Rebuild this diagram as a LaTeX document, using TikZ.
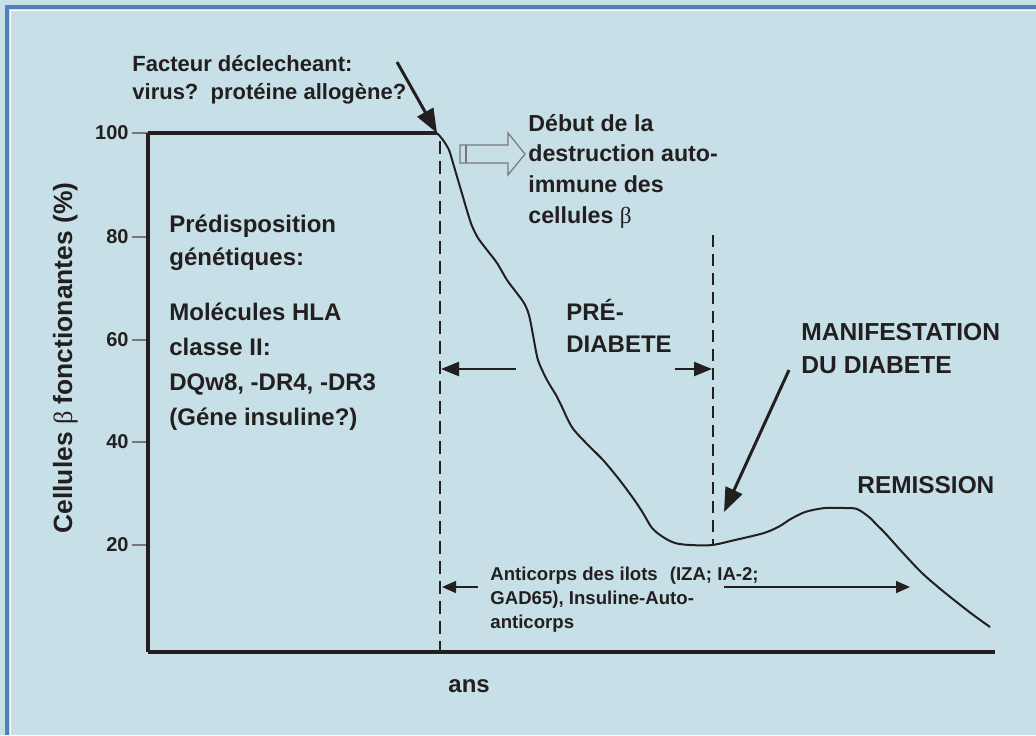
\documentclass[tikz,border=0pt]{standalone}
\usepackage{fontspec}
\setmainfont{Liberation Sans}
\newfontfamily\grec{Liberation Serif}
\usetikzlibrary{arrows.meta, positioning}
\definecolor{fond}{RGB}{199,224,231}
\definecolor{cadre}{RGB}{79,129,189}
\definecolor{encre}{RGB}{35,31,32}
\definecolor{gris}{RGB}{120,120,120}
\tikzstyle{axe} = [draw=encre, line width=2.4pt]
\tikzstyle{plateau} = [draw=encre, line width=1.8pt]
\tikzstyle{graduation} = [draw=gris, line width=0.7pt]
\tikzstyle{tiret} = [draw=encre, line width=1.3pt, dash pattern=on 6.5pt off 3.5pt]
\tikzstyle{tiretfin} = [draw=encre, line width=0.9pt, dash pattern=on 6pt off 3.5pt]
\tikzstyle{courbe} = [draw=encre, line width=1pt, line join=round]
\tikzstyle{fleche} = [draw=encre, line width=1.2pt, -{Triangle[length=9pt, width=7pt]}]
\tikzstyle{grossefleche} = [draw=encre, line width=1.5pt, -{Triangle[length=12pt, width=9pt]}]
\tikzstyle{finefleche} = [draw=encre, line width=0.75pt, -{Triangle[length=7pt, width=6pt]}]
\tikzstyle{titre} = [text=encre, inner sep=0pt, anchor=base west, align=left]
\tikzstyle{valeur} = [text=encre, inner sep=0pt, anchor=east, font=\bfseries\fontsize{10}{12}\selectfont]

\begin{document}
\begin{tikzpicture}[x=0.5pt, y=-0.5pt]
	\useasboundingbox (0,0) rectangle (1036,735);
	\fill [fond] (0,0) rectangle (1036,735);
	\draw [cadre, line width=2pt] (7,735) -- (7,7) -- (1036,7);
	\draw [white, line width=0.7pt] (10.5,735) -- (10.5,10.5) -- (1036,10.5);

	\coordinate (o) at (148,652);
	\coordinate (yhaut) at (148,133);
	\coordinate (xfin) at (995,652);
	\coordinate (onset) at (437,133);
	\coordinate (trig) at (397,62);
	\coordinate (dg1) at (440,141);
	\coordinate (dg2) at (440,650);
	\coordinate (dd1) at (713,235);
	\coordinate (dd2) at (713,545);
	\coordinate (predL) at (516,369);
	\coordinate (predLend) at (441,369);
	\coordinate (predR) at (675,369);
	\coordinate (predRend) at (712,369);
	\coordinate (manA) at (789,370);
	\coordinate (manB) at (724,512);
	\coordinate (acL) at (478,587);
	\coordinate (acLend) at (442,587);
	\coordinate (acR) at (724,587);
	\coordinate (acRend) at (910,587);

	\foreach \v/\y in {100/133, 80/237, 60/340, 40/442, 20/545} {
		\path [graduation] (132,\y) -- (148,\y);
		\node [valeur] (g\v) at (129,\y) {\v};
	}

	\path [plateau] (yhaut) -- (onset);
	\path [axe] (yhaut) -- (o);
	\path [axe] (o) -- (xfin);

	\path [tiret] (dg1) -- (dg2);
	\path [tiretfin] (dd1) -- (dd2);

	\path [courbe] plot [smooth, tension=0.5] coordinates {
		(437,133) (443,140) (449,150) (453,163) (458,180) (463,197) (468,214)
		(472,226) (478,238) (487,250) (497,263) (507,280) (516,292) (524,303)
		(529,315) (533,335) (538,360) (547,380) (556,395) (562,407) (568,420)
		(574,430) (588,445) (603,460) (618,478) (633,498) (643,513) (652,528)
		(663,537) (675,543) (690,545) (712,545) (735,540) (764,533) (780,526)
		(789,520) (805,512) (825,508) (845,508) (857,509) (869,517) (877,525)
		(885,533) (903,553) (922,573) (938,587) (954,600) (972,614) (990,627)};

	\draw [gris, fill=fond, line width=0.6pt, line join=miter]
		(460,145) -- (508,145) -- (508,133) -- (525,154) -- (508,175)
		-- (508,163) -- (460,163) -- cycle;
	\draw [gris, line width=0.6pt] (466,145) -- (466,163);

	\path [grossefleche] (trig) -- (onset);
	\path [fleche] (predL) -- (predLend);
	\path [fleche] (predR) -- (predRend);
	\path [grossefleche] (manA) -- (manB);
	\path [finefleche] (acL) -- (acLend);
	\path [finefleche] (acR) -- (acRend);

	\node [titre, font=\bfseries\fontsize{11}{14}\selectfont] (facteur) at (132,99)
		{Facteur déclecheant:\\virus?~~protéine allogène?};
	\node [titre, font=\bfseries\fontsize{11.6}{15.3}\selectfont] (debut) at (528,223)
		{Début de la\\destruction auto-\\immune des\\cellules {\grec\mdseries β}};
	\node [titre, font=\bfseries\fontsize{12}{16.5}\selectfont] (predispo) at (169,265)
		{Prédisposition\\génétiques:};
	\node [titre, font=\bfseries\fontsize{12}{17.5}\selectfont] (hla) at (169,425)
		{Molécules HLA\\classe II:\\DQw8, -DR4, -DR3\\(Géne insuline?)};
	\node [titre, font=\bfseries\fontsize{12}{16}\selectfont] (prediab) at (566,352)
		{PRÉ-\\DIABETE};
	\node [titre, font=\bfseries\fontsize{12.3}{16.5}\selectfont] (manif) at (801,373)
		{MANIFESTATION\\DU DIABETE};
	\node [titre, font=\bfseries\fontsize{12.2}{15}\selectfont] (remis) at (857,493)
		{REMISSION};
	\node [titre, font=\bfseries\fontsize{9.3}{12}\selectfont] (anticorps) at (490,628)
		{Anticorps des ilots\hspace{6pt}(IZA; IA-2;\\GAD65), Insuline-Auto-\\anticorps};
	\node [titre, font=\bfseries\fontsize{12}{15}\selectfont] (ans) at (448,692) {ans};
	\node [text=encre, inner sep=0pt, anchor=base, rotate=90,
		font=\bfseries\fontsize{13.2}{15}\selectfont] (ylab) at (72,358)
		{Cellules {\grec\mdseries β} fonctionantes (\%)};
\end{tikzpicture}
\end{document}
